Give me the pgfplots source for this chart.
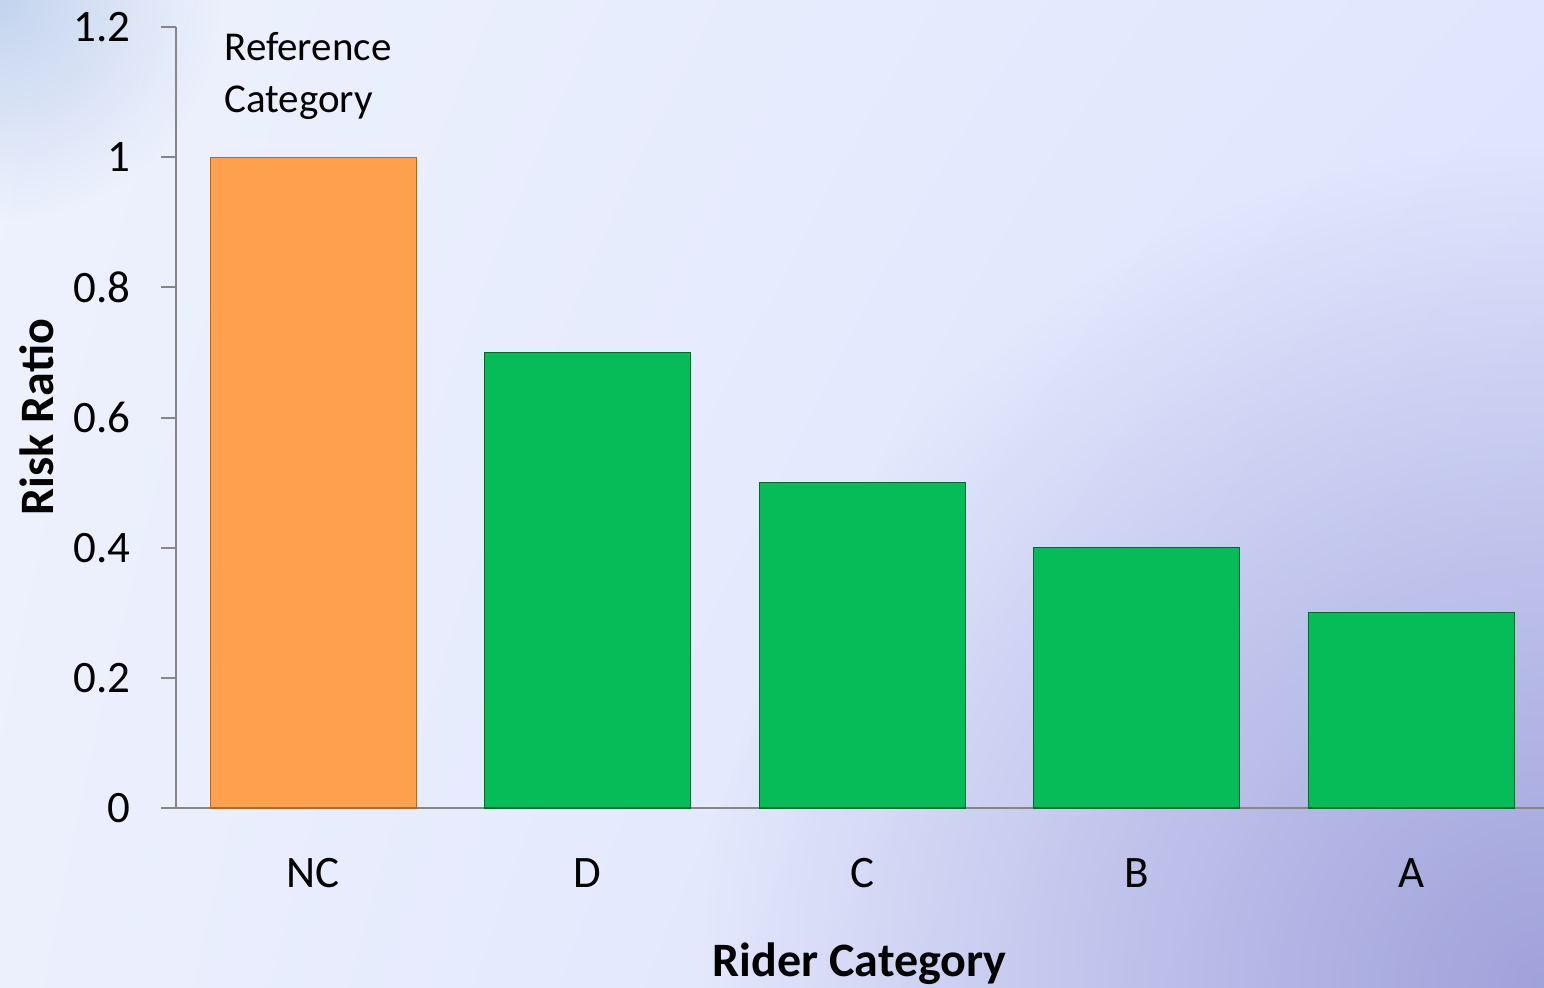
\documentclass[border=0pt]{standalone}
\usepackage{pgfplots}
\pgfplotsset{compat=1.18}
\usetikzlibrary{shadings,fadings}
\usepackage{fontspec}
\setmainfont{Carlito}
\definecolor{bgUL}{RGB}{238,242,253}
\definecolor{bgUR}{RGB}{224,230,253}
\definecolor{bgLL}{RGB}{236,240,253}
\definecolor{bgLR}{RGB}{216,222,252}
\definecolor{bgCorner}{RGB}{160,162,218}
\definecolor{bgTopLeft}{RGB}{196,212,238}
\definecolor{barorange}{RGB}{255,160,79}
\definecolor{barorangeedge}{RGB}{175,105,45}
\definecolor{bargreen}{RGB}{6,188,88}
\definecolor{bargreenedge}{RGB}{0,105,45}
\definecolor{axisgray}{RGB}{134,134,134}
\tikzfading[name=radfade, inner color=transparent!0, outer color=transparent!100]
\begin{document}
\begin{tikzpicture}
\useasboundingbox (0,0) rectangle (772pt,493.5pt);
\clip (0,0) rectangle (772pt,493.5pt);
\shade[upper left=bgUL, upper right=bgUR, lower left=bgLL, lower right=bgLR] (0,0) rectangle (772pt,493.5pt);
\fill[bgCorner, path fading=radfade, fit fading=true] (772pt,0pt) circle (420pt);
\fill[bgTopLeft, path fading=radfade, fit fading=true] (0pt,493.5pt) circle (110pt);
\begin{axis}[
  at={(88pt,89.5pt)}, anchor=south west,
  scale only axis, width=686.25pt, height=390.5pt,
  xmin=-0.5, xmax=4.5, ymin=0, ymax=1.2,
  axis x line=bottom, axis y line=left,
  axis line style={-, draw=axisgray, line width=1pt},
  xtick={0,1,2,3,4},
  xticklabels={NC,D,C,B,A},
  x tick style={draw=none},
  ytick={0,0.2,0.4,0.6,0.8,1,1.2},
  y tick style={draw=axisgray, line width=1pt},
  tick align=outside, major tick length=7.5pt,
  /pgf/number format/assume math mode=true,
  tick label style={font=\fontsize{22.5}{27}\selectfont},
  xticklabel style={anchor=center, yshift=-25pt},
  yticklabel style={anchor=east, inner sep=0pt, xshift=-15pt},
  xlabel={Rider Category}, ylabel={Risk Ratio},
  label style={font=\fontsize{24}{29}\selectfont\bfseries},
  xlabel style={at={(axis description cs:0.498,-0.199)}, anchor=center},
  ylabel style={at={(axis description cs:-0.1013,0.5006)}, anchor=center, rotate=0},
  ybar, bar width=0.75, bar shift=0pt,
  clip=false,
]
\addplot[fill=barorange, draw=barorangeedge, line width=0.6pt] coordinates {(0,1)};
\addplot[fill=bargreen, draw=bargreenedge, line width=0.6pt] coordinates {(1,0.7) (2,0.5) (3,0.4) (4,0.3)};
\node[anchor=west, align=left, inner sep=0pt, font=\fontsize{20.5}{26}\selectfont] at (axis cs:-0.325,1.125) {Reference\\Category};
\end{axis}
\end{tikzpicture}
\end{document}
